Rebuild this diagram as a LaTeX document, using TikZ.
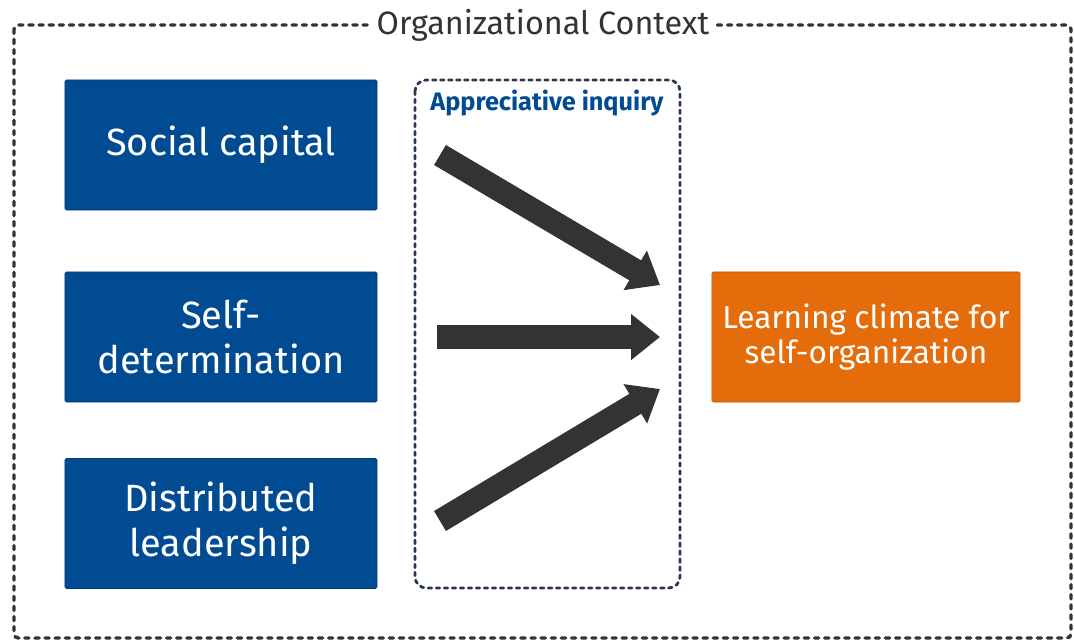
\documentclass[tikz,border=0pt]{standalone}
\usepackage{fontspec}
\setmainfont{Fira Sans}
\usepackage{xcolor}
\usetikzlibrary{arrows.meta}
\definecolor{boxblue}{RGB}{0, 75, 145}
\definecolor{climateorange}{RGB}{228, 108, 10}
\definecolor{inquirynavy}{RGB}{40, 56, 80}
\definecolor{arrowgrey}{RGB}{51, 51, 51}

\begin{document}
\begin{tikzpicture}[x=0.025cm, y=-0.025cm,
    factor/.style={rectangle, draw=boxblue!80!black, fill=boxblue, rounded corners=1pt,
        minimum width=7.8cm, minimum height=3.25cm, text=white, align=center,
        font=\fontsize{27}{32}\selectfont},
    outcome/.style={rectangle, draw=climateorange!80!black, fill=climateorange, rounded corners=1pt,
        minimum width=7.7cm, minimum height=3.25cm, text=white, align=center,
        font=\fontsize{22.5}{25}\selectfont},
    bigarrow/.style={arrowgrey, line width=0.58cm, -{Triangle[length=0.72cm, width=1.1cm]}}]
\useasboundingbox (0,0) rectangle (1074,641);
% Organizational context frame
\draw[black!80, line width=2.4pt, line cap=round, dash pattern=on 3pt off 4.2pt, rounded corners=3pt]
    (14,25) rectangle (1071,638);
\node[fill=white, inner xsep=5pt, text=black!80, font=\fontsize{23}{26}\selectfont] (context) at (543,25) {Organizational Context};
% Appreciative inquiry frame
\draw[inquirynavy, line width=2pt, line cap=round, dash pattern=on 2.5pt off 3.2pt, rounded corners=8pt]
    (415,80) rectangle (680,588);
\node[text=boxblue, font=\fontsize{18}{20}\selectfont\bfseries] (inquiry) at (547,103) {Appreciative inquiry};
% Factors
\node[factor] (social) at (221,145) {Social capital};
\node[factor] (selfdet) at (221,337) {Self-\\determination};
\node[factor] (leader) at (221,523.5) {Distributed\\leadership};
% Outcome
\node[outcome] (climate) at (866,337) {Learning climate for\\self-organization};
% Arrows
\coordinate (s1) at (440,155);
\coordinate (e1) at (660,285);
\coordinate (s2) at (437,337);
\coordinate (e2) at (660,337);
\coordinate (s3) at (440,521);
\coordinate (e3) at (660,389);
\foreach \from/\to in {s1/e1, s2/e2, s3/e3} {
    \draw[bigarrow] (\from) -- (\to);
}
\end{tikzpicture}
\end{document}
